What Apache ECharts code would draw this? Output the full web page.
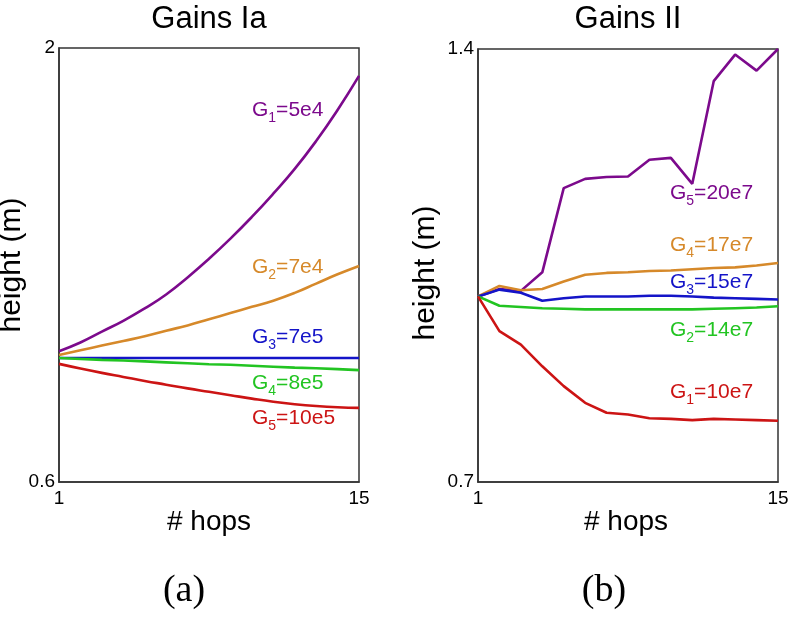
<!DOCTYPE html>
<html>
<head>
<meta charset="utf-8">
<script src="https://cdn.jsdelivr.net/npm/echarts@6/dist/echarts.min.js"></script>
<style>
html,body{margin:0;padding:0;background:#fff;}
#chart{width:796px;height:619px;}
</style>
</head>
<body>
<div id="chart"></div>
<script>
// ---------- data ----------
const hops = [1,2,3,4,5,6,7,8,9,10,11,12,13,14,15];

// Panel (a) Gains Ia
const aG1 = [1.022,1.05,1.085,1.12,1.16,1.205,1.26,1.32,1.385,1.455,1.53,1.61,1.70,1.80,1.91];
const aG2 = [1.01,1.025,1.04,1.055,1.07,1.088,1.105,1.125,1.145,1.165,1.185,1.21,1.24,1.27,1.297];
const aG3 = [1.0,1.0,1.0,1.0,1.0,1.0,1.0,1.0,1.0,1.0,1.0,1.0,1.0,1.0,1.0];
const aG4 = [1.0,0.997,0.994,0.992,0.989,0.986,0.983,0.980,0.978,0.975,0.972,0.969,0.967,0.964,0.961];
const aG5 = [0.981,0.966,0.952,0.939,0.926,0.914,0.902,0.891,0.88,0.869,0.859,0.851,0.845,0.841,0.839];

// Panel (b) Gains II
const bG5 = [1.0,1.012,1.009,1.039,1.175,1.19,1.193,1.194,1.221,1.224,1.182,1.348,1.391,1.365,1.4];
const bG4 = [1.0,1.017,1.010,1.012,1.024,1.035,1.038,1.039,1.041,1.042,1.044,1.046,1.047,1.05,1.054];
const bG3 = [1.0,1.011,1.006,0.993,0.997,1.0,1.0,1.0,1.001,1.001,1.0,0.998,0.997,0.996,0.995];
const bG2 = [1.0,0.985,0.983,0.981,0.98,0.979,0.979,0.979,0.979,0.979,0.979,0.98,0.981,0.982,0.984];
const bG1 = [1.0,0.944,0.922,0.887,0.855,0.828,0.812,0.809,0.803,0.802,0.8,0.802,0.801,0.8,0.799];

const aTicksY = [0.6, 2];
const bTicksY = [0.7, 1.4];
const xTicks = [1, 15];

const titles = ['Gains Ia', 'Gains II'];
const panelTags = ['(a)', '(b)'];
const xName = '# hops';
const yName = 'height (m)';

const aLabels = [['1','=5e4'],['2','=7e4'],['3','=7e5'],['4','=8e5'],['5','=10e5']];
const bLabels = [['5','=20e7'],['4','=17e7'],['3','=15e7'],['2','=14e7'],['1','=10e7']];

// ---------- styles ----------
const C = {purple:'#7C0A8C', orange:'#D6892A', blue:'#1414C8', green:'#22C422', red:'#CC1414'};
const FONT = 'Liberation Sans, Arial, sans-serif';

const chart = echarts.init(document.getElementById('chart'), null, {renderer:'canvas'});

function pair(ys){ return hops.map((h,i)=>[h, ys[i]]); }

function xAxis(gi){
  return {
    type:'value', gridIndex:gi, min:1, max:15, interval:1,
    axisLine:{show:true, onZero:false, lineStyle:{color:'#333', width:1.5}},
    axisTick:{show:false},
    splitLine:{show:false},
    axisLabel:{customValues:xTicks, color:'#000', fontSize:19, fontFamily:FONT, margin:7,
      formatter:v=>String(v)}
  };
}
function yAxis(gi, mn, mx, ticks){
  return {
    type:'value', gridIndex:gi, min:mn, max:mx,
    axisLine:{show:true, onZero:false, lineStyle:{color:'#333', width:1.5}},
    axisTick:{show:false},
    splitLine:{show:false},
    axisLabel:{customValues:ticks, color:'#000', fontSize:19, fontFamily:FONT, margin:4,
      formatter:v=>String(+v.toFixed(2))}
  };
}
function line(gi, ys, color, smooth){
  return {type:'line', xAxisIndex:gi, yAxisIndex:gi, data:pair(ys), showSymbol:false, symbol:'none',
    smooth:smooth, lineStyle:{color:color, width:2.6}, itemStyle:{color:color}, animation:false, silent:true};
}

function gLabel(x, y, sub, rest, color){
  return {type:'text', x:x, y:y, silent:true, style:{
    text:'{g|G}{s|'+sub+'}{g|'+rest+'}',
    verticalAlign:'middle', align:'left',
    rich:{
      g:{fontSize:21, fontFamily:FONT, fill:color, lineHeight:30},
      s:{fontSize:14, fontFamily:FONT, fill:color, lineHeight:14, verticalAlign:'bottom'}
    }
  }};
}
function plainText(x, y, text, size, family, rot){
  return {type:'text', x:x, y:y, rotation:rot||0, silent:true, style:{
    text:text, fontSize:size, fontFamily:family, fill:'#000', align:'center', verticalAlign:'middle'}};
}

const labelColorsA = [C.purple, C.orange, C.blue, C.green, C.red];
const labelYA = [110, 267, 337, 383, 418];
const labelColorsB = [C.purple, C.orange, C.blue, C.green, C.red];
const labelYB = [193, 245, 282, 330, 392];

const graphics = [];
graphics.push(plainText(209, 19, titles[0], 31, FONT));
graphics.push(plainText(628, 19, titles[1], 31, FONT));
graphics.push(plainText(209, 522, xName, 28, FONT));
graphics.push(plainText(626, 522, xName, 28, FONT));
graphics.push(plainText(12, 265, yName, 30, FONT, Math.PI/2));
graphics.push(plainText(426, 273, yName, 30, FONT, Math.PI/2));
graphics.push(plainText(184, 591, panelTags[0], 38, 'Liberation Serif, serif'));
graphics.push(plainText(604, 591, panelTags[1], 38, 'Liberation Serif, serif'));
aLabels.forEach((l,i)=>graphics.push(gLabel(252, labelYA[i], l[0], l[1], labelColorsA[i])));
bLabels.forEach((l,i)=>graphics.push(gLabel(670, labelYB[i], l[0], l[1], labelColorsB[i])));

chart.setOption({
  animation:false,
  backgroundColor:'#fff',
  grid:[
    {left:59, top:48, width:300, height:434, show:true, borderColor:'#333', borderWidth:1.5, backgroundColor:'#fff'},
    {left:478, top:49, width:300, height:433, show:true, borderColor:'#333', borderWidth:1.5, backgroundColor:'#fff'}
  ],
  xAxis:[xAxis(0), xAxis(1)],
  yAxis:[yAxis(0,0.6,2,aTicksY), yAxis(1,0.7,1.4,bTicksY)],
  series:[
    line(0, aG1, C.purple, true),
    line(0, aG2, C.orange, true),
    line(0, aG3, C.blue, false),
    line(0, aG4, C.green, false),
    line(0, aG5, C.red, true),
    line(1, bG5, C.purple, false),
    line(1, bG4, C.orange, false),
    line(1, bG3, C.blue, false),
    line(1, bG2, C.green, false),
    line(1, bG1, C.red, false)
  ],
  graphic:graphics
});
</script>
</body>
</html>
